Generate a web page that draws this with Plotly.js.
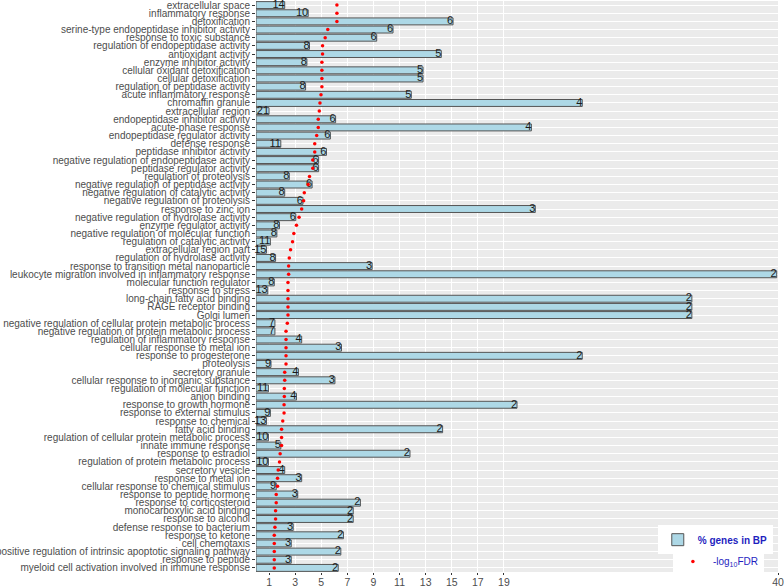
<!DOCTYPE html>
<html>
<head>
<meta charset="utf-8">
<script src="https://cdn.plot.ly/plotly-3.0.1.min.js"></script>
<style>html,body{margin:0;padding:0;background:#fff;}#chart{width:784px;height:587px;}</style>
</head>
<body>
<div id="chart"></div>
<script>
const terms = [
"extracellular space","inflammatory response","detoxification","serine-type endopeptidase inhibitor activity",
"response to toxic substance","regulation of endopeptidase activity","antioxidant activity","enzyme inhibitor activity",
"cellular oxidant detoxification","cellular detoxification","regulation of peptidase activity","acute inflammatory response",
"chromaffin granule","extracellular region","endopeptidase inhibitor activity","acute-phase response",
"endopeptidase regulator activity","defense response","peptidase inhibitor activity","negative regulation of endopeptidase activity",
"peptidase regulator activity","regulation of proteolysis","negative regulation of peptidase activity","negative regulation of catalytic activity",
"negative regulation of proteolysis","response to zinc ion","negative regulation of hydrolase activity","enzyme regulator activity",
"negative regulation of molecular function","regulation of catalytic activity","extracellular region part","regulation of hydrolase activity",
"response to transition metal nanoparticle","leukocyte migration involved in inflammatory response","molecular function regulator","response to stress",
"long-chain fatty acid binding","RAGE receptor binding","Golgi lumen","negative regulation of cellular protein metabolic process",
"negative regulation of protein metabolic process","regulation of inflammatory response","cellular response to metal ion","response to progesterone",
"proteolysis","secretory granule","cellular response to inorganic substance","regulation of molecular function",
"anion binding","response to growth hormone","response to external stimulus","response to chemical",
"fatty acid binding","regulation of cellular protein metabolic process","innate immune response","response to estradiol",
"regulation of protein metabolic process","secretory vesicle","response to metal ion","cellular response to chemical stimulus",
"response to peptide hormone","response to corticosteroid","monocarboxylic acid binding","response to alcohol",
"defense response to bacterium","response to ketone","cell chemotaxis","positive regulation of intrinsic apoptotic signaling pathway",
"response to peptide","myeloid cell activation involved in immune response"
];
const pctGenes = [
2.2,4.0,15.1,10.5,9.25,4.1,14.2,3.9,12.8,12.8,3.8,11.9,
25.0,1.0,6.1,21.1,5.7,1.9,5.4,4.8,4.8,2.55,4.3,2.2,
3.6,21.4,3.05,1.8,1.6,1.1,0.8,1.5,8.9,39.9,1.4,0.9,
33.4,33.4,33.4,1.45,1.45,3.5,6.55,25.0,1.15,3.25,6.05,0.95,
3.1,20.0,1.1,0.8,14.3,0.95,1.9,11.8,0.95,2.2,3.5,1.55,
3.2,8.0,7.45,7.45,2.85,6.7,2.7,6.5,2.7,6.3
];
const geneCounts = [
14,10,6,6,6,8,5,8,5,5,8,5,
4,21,6,4,6,11,6,6,6,8,6,8,
6,3,6,8,8,11,15,8,3,2,8,13,
2,2,2,7,7,4,3,2,9,4,3,11,
4,2,9,13,2,10,5,2,10,4,3,9,
3,2,2,2,3,2,3,2,3,2
];
const negLog10FDR = [
6.2,6.2,6.2,5.5,5.3,5.1,5.1,5.05,5.05,5.05,5.05,4.98,
4.9,4.85,4.77,4.77,4.65,4.5,4.5,4.35,4.35,4.1,4.0,3.7,
3.65,3.5,3.3,3.1,2.9,2.8,2.65,2.55,2.5,2.5,2.45,2.45,
2.45,2.45,2.45,2.4,2.3,2.3,2.3,2.3,2.3,2.2,2.2,2.17,
2.17,2.15,2.15,2.05,1.96,1.96,1.96,1.85,1.8,1.7,1.65,1.65,
1.55,1.55,1.5,1.5,1.45,1.4,1.4,1.4,1.4,1.4
];
const xTicks = [1,3,5,7,9,11,13,15,17,19,40];

const traces = [
  {
    type: 'bar', orientation: 'h', x: pctGenes, y: terms, width: 0.85,
    name: '% genes in BP', legend: 'legend',
    marker: {color: '#ADD8E6', line: {color: '#555555', width: 1}},
    hoverinfo: 'x+y'
  },
  {
    type: 'scatter', mode: 'text', x: pctGenes, y: terms,
    text: geneCounts.map(String), textposition: 'middle left',
    textfont: {family: 'Liberation Sans, Arial, sans-serif', size: 11, color: '#1a1a1a'},
    showlegend: false, hoverinfo: 'skip', cliponaxis: false
  },
  {
    type: 'scatter', mode: 'markers', x: negLog10FDR, y: terms,
    name: '-log<sub>10</sub>FDR', legend: 'legend2',
    marker: {color: '#FF0000', size: 3.5}
  }
];

const layout = {
  width: 784, height: 587,
  margin: {l: 256, r: 6, t: 1, b: 15},
  paper_bgcolor: '#FFFFFF', plot_bgcolor: '#EBEBEB',
  font: {family: 'Liberation Sans, Arial, sans-serif', color: '#4D4D4D'},
  xaxis: {
    range: [0, 40], autorange: false, tickmode: 'array', tickvals: xTicks, ticktext: xTicks.map(String),
    showgrid: true, gridcolor: '#FFFFFF', gridwidth: 1, zeroline: false,
    ticks: 'outside', ticklen: 2, tickcolor: '#333333', ticklabelstandoff: -2,
    tickfont: {size: 10.5, color: '#4D4D4D'}, showline: false, automargin: false
  },
  yaxis: {
    type: 'category', categoryorder: 'array', categoryarray: terms,
    range: [terms.length - 0.5, -0.5], autorange: false,
    tickmode: 'linear', tick0: 0, dtick: 1,
    showgrid: true, gridcolor: '#FFFFFF', gridwidth: 1,
    ticks: 'outside', ticklen: 3, tickcolor: '#333333',
    tickfont: {size: 10, color: '#4D4D4D'}, automargin: false
  },
  legend: {
    x: 0.99, xanchor: 'right', y: 0.082, yanchor: 'top',
    bgcolor: '#FFFFFF', borderwidth: 0,
    font: {size: 10, color: '#1F1FBF', weight: 'bold'},
    itemwidth: 30, tracegroupgap: 0
  },
  legend2: {
    x: 0.973, xanchor: 'right', y: 0.044, yanchor: 'top',
    bgcolor: '#FFFFFF', borderwidth: 0,
    font: {size: 10, color: '#1F1FBF'},
    itemwidth: 30
  },
  showlegend: true
};

Plotly.newPlot('chart', traces, layout, {displayModeBar: false, staticPlot: true});
</script>
</body>
</html>
